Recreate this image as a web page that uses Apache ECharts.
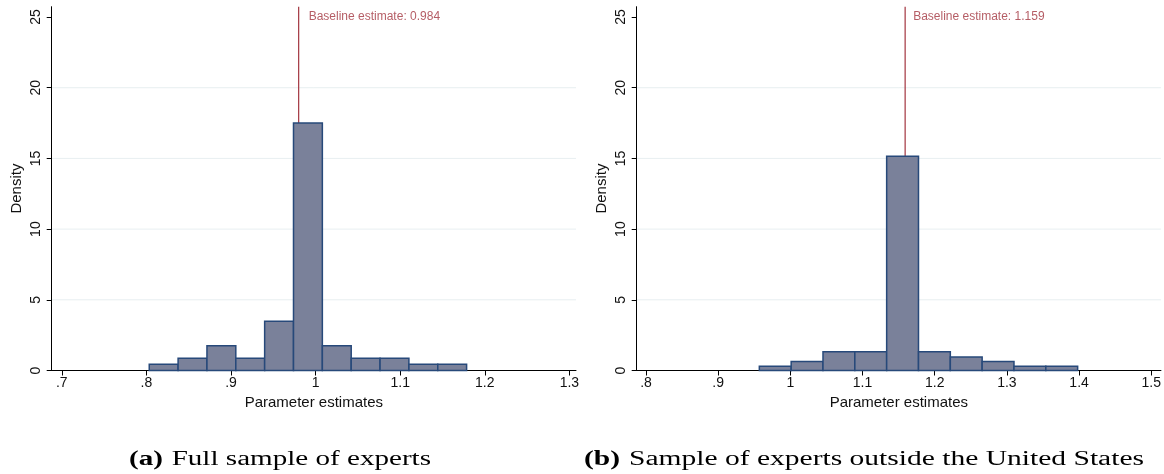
<!DOCTYPE html>
<html>
<head>
<meta charset="utf-8">
<script src="https://cdn.jsdelivr.net/npm/echarts@6/dist/echarts.min.js"></script>
<style>
html,body{margin:0;padding:0;background:#fff;}
#c{width:1164px;height:474px;}
</style>
</head>
<body>
<div id="c"></div>
<script>
// ---- data ----
const leftBinEdges = [0.8034, 0.8375, 0.8716, 0.9057, 0.9398, 0.9739, 1.0080, 1.0421, 1.0762, 1.1103, 1.1444, 1.1785];
const leftDensity  = [0.44, 0.87, 1.75, 0.87, 3.49, 17.5, 1.75, 0.87, 0.87, 0.44, 0.44];
const rightBinEdges = [0.957, 1.0011, 1.0452, 1.0893, 1.1334, 1.1775, 1.2216, 1.2657, 1.3098, 1.3539, 1.398];
const rightDensity  = [0.30, 0.63, 1.32, 1.32, 15.15, 1.32, 0.96, 0.63, 0.30, 0.30];
const baselineX = [0.98, 1.159];
const baselineText = ['Baseline estimate: 0.984', 'Baseline estimate: 1.159'];
const leftXTicks = [0.7, 0.8, 0.9, 1.0, 1.1, 1.2, 1.3];
const rightXTicks = [0.8, 0.9, 1.0, 1.1, 1.2, 1.3, 1.4, 1.5];
const yTicks = [0, 5, 10, 15, 20, 25];
const gridYValues = [5, 10, 15, 20];
const xTitle = 'Parameter estimates';
const yTitle = 'Density';
const captionLabels = ['(a)', '(b)'];
const captionTexts = ['Full sample of experts', 'Sample of experts outside the United States'];

// ---- styling ----
const barFill = '#7a819a';
const barStroke = '#27497a';
const lineColor = '#a3353f';
const gridColor = '#e8eff1';
const sans = '"Liberation Sans", Arial, sans-serif';

function fmtTick(v) {
  let s = (Math.round(v * 10) / 10).toString();
  if (s.startsWith('0.')) s = s.slice(1);
  return s;
}
function binRows(edges, dens) {
  return dens.map((d, i) => [edges[i], edges[i + 1], d]);
}
function renderBar(params, api) {
  const a = api.coord([api.value(0), api.value(2)]);
  const b = api.coord([api.value(1), 0]);
  return {
    type: 'rect',
    shape: { x: a[0], y: a[1], width: b[0] - a[0], height: b[1] - a[1] },
    style: { fill: barFill, stroke: barStroke, lineWidth: 1.5 }
  };
}
function renderHLine(params, api) {
  const cs = params.coordSys;
  const y = api.coord([0, api.value(0)])[1];
  return {
    type: 'line',
    shape: { x1: cs.x, y1: y, x2: cs.x + cs.width, y2: y },
    style: { stroke: gridColor, lineWidth: 1 }
  };
}
function renderVLine(params, api) {
  const cs = params.coordSys;
  const x = api.coord([api.value(0), 0])[0];
  return {
    type: 'line',
    shape: { x1: x, y1: cs.y, x2: x, y2: cs.y + cs.height },
    style: { stroke: lineColor, lineWidth: 1.2 }
  };
}
function xAxisDef(idx, min, max, ticks) {
  return {
    type: 'value', gridIndex: idx, min: min, max: max,
    name: xTitle, nameLocation: 'middle', nameGap: 21,
    nameTextStyle: { fontFamily: sans, fontSize: 15, color: '#111' },
    axisLine: { show: true, onZero: false, lineStyle: { color: '#000', width: 1 } },
    axisTick: { show: true, length: 5, customValues: ticks, lineStyle: { color: '#000' } },
    axisLabel: { customValues: ticks, formatter: fmtTick, fontFamily: sans, fontSize: 14, color: '#111', margin: 6 },
    splitLine: { show: false }
  };
}
function yAxisDef(idx) {
  return {
    type: 'value', gridIndex: idx, min: 0, max: 25.73,
    name: yTitle, nameLocation: 'middle', nameGap: 27, nameRotate: 90,
    nameTextStyle: { fontFamily: sans, fontSize: 15, color: '#111' },
    axisLine: { show: true, onZero: false, lineStyle: { color: '#000', width: 1 } },
    axisTick: { show: true, length: 5, customValues: yTicks, lineStyle: { color: '#000' } },
    axisLabel: { customValues: yTicks, rotate: 90, fontFamily: sans, fontSize: 14, color: '#111', margin: 9 },
    splitLine: { show: false }
  };
}
function gridSeries(idx) {
  return {
    type: 'custom', xAxisIndex: idx, yAxisIndex: idx, z: 0, silent: true,
    renderItem: renderHLine, encode: { y: 0 },
    data: gridYValues.map(v => [v])
  };
}
function baselineSeries(idx) {
  return {
    type: 'custom', xAxisIndex: idx, yAxisIndex: idx, z: 1, silent: true,
    renderItem: renderVLine, encode: { x: 0 },
    data: [[baselineX[idx]]]
  };
}
function baselineLabel(idx, dist) {
  return {
    type: 'scatter', xAxisIndex: idx, yAxisIndex: idx, z: 5, silent: true,
    symbolSize: 0, data: [[baselineX[idx], 25.0]],
    label: {
      show: true, position: 'right', distance: dist,
      formatter: baselineText[idx], fontFamily: sans, fontSize: 12, color: lineColor
    }
  };
}

const chart = echarts.init(document.getElementById('c'), null, { renderer: 'canvas' });

// captions, stretched to match the reference widths
function measure(font, text) {
  const cv = document.createElement('canvas').getContext('2d');
  cv.font = font; return cv.measureText(text).width;
}
function caption(idx, x0, targetW, yMid) {
  const fs = 20;
  const fb = 'bold ' + fs + 'px "Liberation Serif", serif';
  const fr = fs + 'px "Liberation Serif", serif';
  const w1 = measure(fb, captionLabels[idx]);
  const w2 = measure(fr, captionTexts[idx]);
  const gap = fs * 0.3;
  const scale = targetW / (w1 + gap + w2);
  return {
    type: 'group', x: x0, y: yMid, scaleX: scale, scaleY: 1,
    children: [
      { type: 'text', x: 0, y: 0, style: { text: captionLabels[idx], font: fb, fill: '#000', textVerticalAlign: 'middle', textAlign: 'left' } },
      { type: 'text', x: w1 + gap, y: 0, style: { text: captionTexts[idx], font: fr, fill: '#000', textVerticalAlign: 'middle', textAlign: 'left' } }
    ]
  };
}

const option = {
  animation: false,
  backgroundColor: '#fff',
  grid: [
    { left: 51.7, right: 588, top: 6.7, bottom: 103.5 },
    { left: 636.7, right: 0, top: 6.7, bottom: 103.5 }
  ],
  xAxis: [
    xAxisDef(0, 0.6881, 1.3078, leftXTicks),
    xAxisDef(1, 0.7871, 1.5134, rightXTicks)
  ],
  yAxis: [yAxisDef(0), yAxisDef(1)],
  series: [
    gridSeries(0), gridSeries(1),
    baselineSeries(0), baselineSeries(1),
    {
      type: 'custom', xAxisIndex: 0, yAxisIndex: 0, z: 3,
      renderItem: renderBar, encode: { x: [0, 1], y: 2 },
      data: binRows(leftBinEdges, leftDensity)
    },
    {
      type: 'custom', xAxisIndex: 1, yAxisIndex: 1, z: 3,
      renderItem: renderBar, encode: { x: [0, 1], y: 2 },
      data: binRows(rightBinEdges, rightDensity)
    },
    baselineLabel(0, 10), baselineLabel(1, 8)
  ],
  graphic: [
    caption(0, 129, 302, 460),
    caption(1, 584, 560, 460)
  ]
};
chart.setOption(option);
</script>
</body>
</html>
